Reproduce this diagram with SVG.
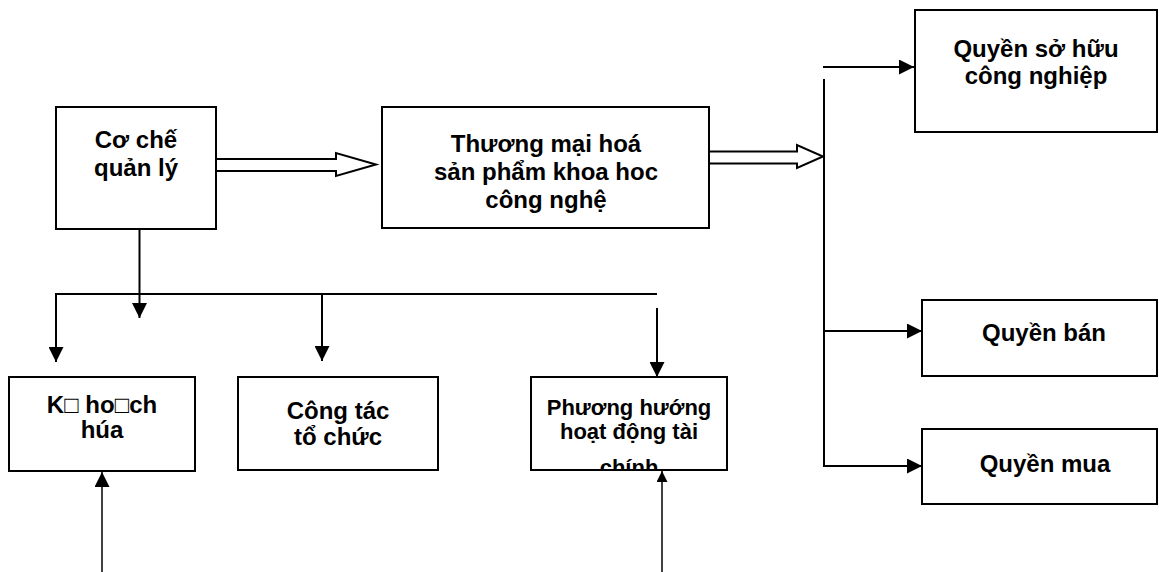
<svg xmlns="http://www.w3.org/2000/svg" width="1159" height="572" viewBox="0 0 1159 572">
  <style>
    .box { fill: #ffffff; stroke: #000000; stroke-width: 2; }
    .lbl { font-family: "Liberation Sans", Arial, sans-serif; font-weight: bold; font-size: 24px; fill: #000000; text-anchor: middle; }
    .lbl-sm { font-size: 22px; }
    .wire { fill: none; stroke: #000000; stroke-width: 2; }
    .thin { fill: none; stroke: #000000; stroke-width: 1.5; }
    .block { fill: #ffffff; stroke: #000000; stroke-width: 2; stroke-linejoin: miter; }
  </style>
  <defs>
    <marker id="head" markerUnits="userSpaceOnUse" markerWidth="15" markerHeight="15" refX="15" refY="7.5" orient="auto">
      <path d="M0,0 L15,7.5 L0,15 z" fill="#000000"/>
    </marker>
    <marker id="headSmall" markerUnits="userSpaceOnUse" markerWidth="11" markerHeight="11" refX="11" refY="5.5" orient="auto">
      <path d="M0,0 L11,5.5 L0,11 z" fill="#000000"/>
    </marker>
    <clipPath id="clipTaiChinh">
      <rect x="532" y="378" width="194" height="91"/>
    </clipPath>
  </defs>

  <!-- connectors -->
  <g id="connectors">
    <!-- hollow block arrows -->
    <polygon class="block" points="216,159 336,159 336,153 376,164.5 336,176 336,171 216,171"/>
    <polygon class="block" points="709,151.5 797,151.5 797,145 823,156.5 797,168 797,163.5 709,163.5"/>
    <!-- management mechanism down to the bus -->
    <path class="wire" d="M139.5,229 V318" marker-end="url(#head)"/>
    <path class="wire" d="M657,294 H56 V362" marker-end="url(#head)"/>
    <path class="wire" d="M322,294 V361" marker-end="url(#head)"/>
    <path class="wire" d="M657,308 V377" marker-end="url(#head)"/>
    <!-- arrows rising from below -->
    <path class="thin" d="M102,572 V472" marker-end="url(#head)"/>
    <path class="thin" d="M662,572 V471" marker-end="url(#headSmall)"/>
    <!-- rights branch -->
    <path class="wire" d="M823,67 H914" marker-end="url(#head)"/>
    <path class="wire" d="M824,79 V466 H922" marker-end="url(#head)"/>
    <path class="wire" d="M824,331 H922" marker-end="url(#head)"/>
  </g>

  <g id="co-che-quan-ly">
    <rect class="box" x="56" y="107" width="160" height="122"/>
    <text class="lbl" x="136" y="147.5">Cơ chế</text>
    <text class="lbl" x="136" y="175.5">quản lý</text>
  </g>

  <g id="thuong-mai-hoa">
    <rect class="box" x="382" y="107" width="327" height="121"/>
    <text class="lbl" x="546" y="151.5">Thương mại hoá</text>
    <text class="lbl" x="546" y="179.5">sản phẩm khoa hoc</text>
    <text class="lbl" x="546" y="207.5">công nghệ</text>
  </g>

  <g id="quyen-so-huu">
    <rect class="box" x="915" y="10" width="242" height="122"/>
    <text class="lbl" x="1036" y="56.5">Quyền sở hữu</text>
    <text class="lbl" x="1036" y="84">công nghiệp</text>
  </g>

  <g id="quyen-ban">
    <rect class="box" x="922" y="300" width="235" height="76"/>
    <text class="lbl" x="1044" y="340.5">Quyền bán</text>
  </g>

  <g id="quyen-mua">
    <rect class="box" x="922" y="429" width="235" height="75"/>
    <text class="lbl" x="1045" y="472">Quyền mua</text>
  </g>

  <g id="ke-hoach">
    <rect class="box" x="9" y="377" width="186" height="94"/>
    <text class="lbl" x="102" y="413">K□ ho□ch</text>
    <text class="lbl" x="102" y="438">húa</text>
  </g>

  <g id="cong-tac-to-chuc">
    <rect class="box" x="238" y="377" width="200" height="93"/>
    <text class="lbl" x="338" y="419">Công tác</text>
    <text class="lbl" x="338" y="445">tổ chức</text>
  </g>

  <g id="phuong-huong">
    <rect class="box" x="531" y="377" width="196" height="93"/>
    <g clip-path="url(#clipTaiChinh)">
      <text class="lbl lbl-sm" x="629" y="415">Phương hướng</text>
      <text class="lbl lbl-sm" x="629" y="439">hoạt động tài</text>
      <text class="lbl lbl-sm" x="629" y="475">chính</text>
    </g>
  </g>
</svg>
